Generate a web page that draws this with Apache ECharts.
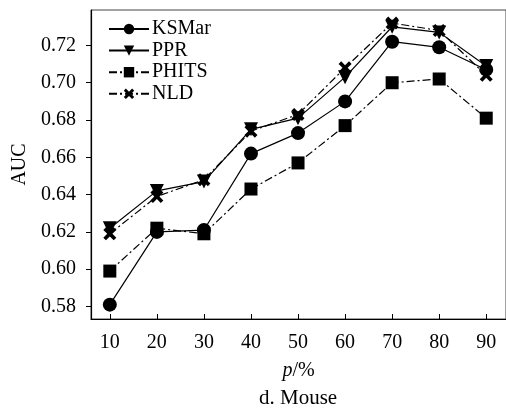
<!DOCTYPE html>
<html>
<head>
<meta charset="utf-8">
<script src="https://cdn.jsdelivr.net/npm/echarts@6/dist/echarts.min.js"></script>
<style>
  html, body { margin: 0; padding: 0; background: #fff; }
  #main { width: 506px; height: 410px; }
</style>
</head>
<body>
<div id="main"></div>
<script>
var pcts = [10, 20, 30, 40, 50, 60, 70, 80, 90];
var yTicks = [0.58, 0.60, 0.62, 0.64, 0.66, 0.68, 0.70, 0.72];
var ksmar = [0.581, 0.620, 0.621, 0.662, 0.673, 0.690, 0.722, 0.719, 0.707];
var ppr   = [0.622, 0.642, 0.647, 0.675, 0.681, 0.703, 0.730, 0.727, 0.709];
var phits = [0.599, 0.622, 0.619, 0.643, 0.657, 0.677, 0.700, 0.702, 0.681];
var nld   = [0.619, 0.639, 0.648, 0.674, 0.683, 0.708, 0.732, 0.728, 0.704];

var font = 'Liberation Serif';
var fs = 20;
var crossPath = 'path://M2,0 L5,3 L8,0 L10,2 L7,5 L10,8 L8,10 L5,7 L2,10 L0,8 L3,5 L0,2 Z';

function pairs(vals) {
    return vals.map(function (v, i) { return [pcts[i], v]; });
}

function mkSeries(name, vals, symbol, size, dash) {
    return {
        name: name,
        type: 'line',
        data: pairs(vals),
        symbol: symbol,
        symbolSize: size,
        showAllSymbol: true,
        itemStyle: { color: '#000' },
        lineStyle: { color: '#000', width: 1.2, type: dash },
        emphasis: { disabled: true },
        animation: false
    };
}

var myChart = echarts.init(document.getElementById('main'));
var option = {
    backgroundColor: '#fff',
    textStyle: { fontFamily: font },
    grid: {
        left: 91, right: -2, top: 10, bottom: 91,
        show: true, borderColor: '#444', borderWidth: 1
    },
    legend: {
        orient: 'vertical',
        left: 103,
        top: 14,
        itemWidth: 40,
        itemHeight: 13,
        itemGap: 1.6,
        textStyle: { fontFamily: font, fontSize: fs, lineHeight: 20, color: '#000', padding: [0, 0, 0, -2] },
        data: ['KSMar', 'PPR', 'PHITS', 'NLD']
    },
    xAxis: {
        type: 'value',
        min: 6,
        max: 94.2,
        splitLine: { show: false },
        axisLine: { lineStyle: { color: '#000', width: 1.2 } },
        axisTick: { inside: true, length: 5, lineStyle: { color: '#000' }, customValues: pcts },
        axisLabel: { customValues: pcts, color: '#000', fontFamily: font, fontSize: fs, margin: 14 },
        name: '{i|p}/%',
        nameLocation: 'middle',
        nameGap: 42,
        nameTextStyle: {
            color: '#000', fontFamily: font, fontSize: fs,
            rich: { i: { fontStyle: 'italic', fontFamily: font, fontSize: fs, color: '#000' } }
        }
    },
    yAxis: {
        type: 'value',
        min: 0.5733,
        max: 0.739,
        splitLine: { show: false },
        axisLine: { show: true, lineStyle: { color: '#000', width: 1.2 } },
        axisTick: { show: true, inside: false, length: 5, lineStyle: { color: '#000' }, customValues: yTicks },
        axisLabel: {
            customValues: yTicks, color: '#000', fontFamily: font, fontSize: fs, margin: 15,
            formatter: function (v) { return v.toFixed(2); }
        },
        name: 'AUC',
        nameLocation: 'middle',
        nameGap: 58,
        nameTextStyle: { color: '#000', fontFamily: font, fontSize: fs }
    },
    graphic: [{
        type: 'text',
        left: 259,
        top: 388,
        style: { text: 'd. Mouse', font: '21px "Liberation Serif"', fill: '#000' }
    }],
    series: [
        mkSeries('KSMar', ksmar, 'circle', 14, 'solid'),
        mkSeries('PPR', ppr, 'triangle', 14, 'solid'),
        mkSeries('PHITS', phits, 'rect', 13, [8, 3, 2, 3]),
        mkSeries('NLD', nld, crossPath, 13, [8, 3, 2, 3])
    ]
};
option.series[1].symbolRotate = 180;
myChart.setOption(option);
</script>
</body>
</html>
